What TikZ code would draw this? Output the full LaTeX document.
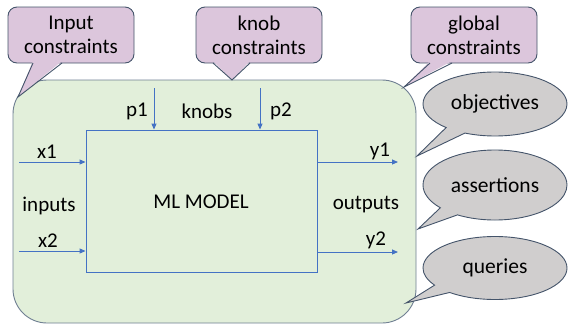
\documentclass[tikz,border=0pt]{standalone}
\usepackage{fontspec}
\setmainfont{Carlito}
\usetikzlibrary{arrows.meta,shapes.callouts,shapes.geometric}
\definecolor{greenfill}{HTML}{E2EFDA}
\definecolor{greenline}{HTML}{6F7F92}
\definecolor{purplefill}{HTML}{DCC6DC}
\definecolor{calline}{HTML}{44546A}
\definecolor{grayfill}{HTML}{D0CECE}
\definecolor{arrowblue}{HTML}{4472C4}
\tikzset{
  lbl/.style={font=\fontsize{21}{24}\selectfont, text=black, inner sep=0pt},
  flow/.style={draw=arrowblue, line width=0.9pt, -{Triangle[length=6pt,width=5pt]}},
  calbox/.style={draw=calline, fill=purplefill, line width=0.9pt, rounded corners=9pt,
    minimum width=126pt, minimum height=56pt, align=center, inner sep=0pt,
    font=\fontsize{21}{24}\selectfont},
  bubble/.style={ellipse callout, draw=calline, fill=grayfill, line width=0.9pt,
    minimum width=144pt, minimum height=64pt, inner sep=0pt, callout pointer arc=18,
    font=\fontsize{21.5}{24}\selectfont},
}
\begin{document}
\begin{tikzpicture}[x=1pt,y=-1pt]
\useasboundingbox (0,0) rectangle (568,325);
% main green area
\node[draw=greenline, fill=greenfill, line width=0.9pt, rounded corners=34pt,
  minimum width=403pt, minimum height=243pt, inner sep=0pt] (area) at (214.5,201.5) {};
% ML model box
\node[draw=arrowblue, line width=0.9pt, minimum width=231pt, minimum height=142pt,
  inner sep=0pt] (ml) at (201.5,201) {};
\node[lbl] (mltxt) at (201,202) {ML MODEL};
% inputs
\coordinate (x1s) at (19,162);
\coordinate (x2s) at (19,251);
\draw[flow] (x1s) -- (x1s -| ml.west);
\draw[flow] (x2s) -- (x2s -| ml.west);
\node[lbl] (x1) at (47,152) {x1};
\node[lbl] (x2) at (48,241) {x2};
\node[lbl] (inputs) at (49,206) {inputs};
% outputs
\coordinate (y1e) at (398,162);
\coordinate (y2e) at (398,252);
\draw[flow] (y1e -| ml.east) -- (y1e);
\draw[flow] (y2e -| ml.east) -- (y2e);
\node[lbl] (y1) at (380,151) {y1};
\node[lbl] (y2) at (376,240) {y2};
\node[lbl] (outputs) at (366,205) {outputs};
% knobs
\coordinate (p1s) at (154,88);
\coordinate (p2s) at (260,88);
\draw[flow] (p1s) -- (p1s |- ml.north);
\draw[flow] (p2s) -- (p2s |- ml.north);
\node[lbl] (p1) at (137,111) {p1};
\node[lbl] (knobs) at (207,111) {knobs};
\node[lbl] (p2) at (281,111) {p2};
% rectangular callouts
\node[calbox] (cin) at (71,35) {Input\\constraints};
\coordinate (cintip) at (18,97);
\fill[purplefill] (33,61) -- (cintip) -- (62,61) -- cycle;
\draw[calline, line width=0.9pt, line join=miter] (33,63) -- (cintip) -- (62,63);
\node[calbox] (ckn) at (259,35) {knob\\constraints};
\coordinate (ckntip) at (232,80);
\fill[purplefill] (213,61) -- (ckntip) -- (250,61) -- cycle;
\draw[calline, line width=0.9pt, line join=miter] (213,63) -- (ckntip) -- (250,63);
\node[calbox] (cgl) at (474,35) {global\\constraints};
\coordinate (cgltip) at (404,87);
\fill[purplefill] (430,61) -- (cgltip) -- (452,61) -- cycle;
\draw[calline, line width=0.9pt, line join=miter] (430,63) -- (cgltip) -- (452,63);
% ellipse callouts
\coordinate (objtip) at (417,156);
\coordinate (asstip) at (418,229);
\coordinate (qrytip) at (406,303);
\node[bubble, callout absolute pointer={(objtip)}] (obj) at (495,104) {objectives};
\node[bubble, callout absolute pointer={(asstip)}, minimum height=70pt] (ass) at (495,185) {assertions};
\node[bubble, callout absolute pointer={(qrytip)}, minimum height=63pt] (qry) at (495,268) {queries};
\end{tikzpicture}
\end{document}
